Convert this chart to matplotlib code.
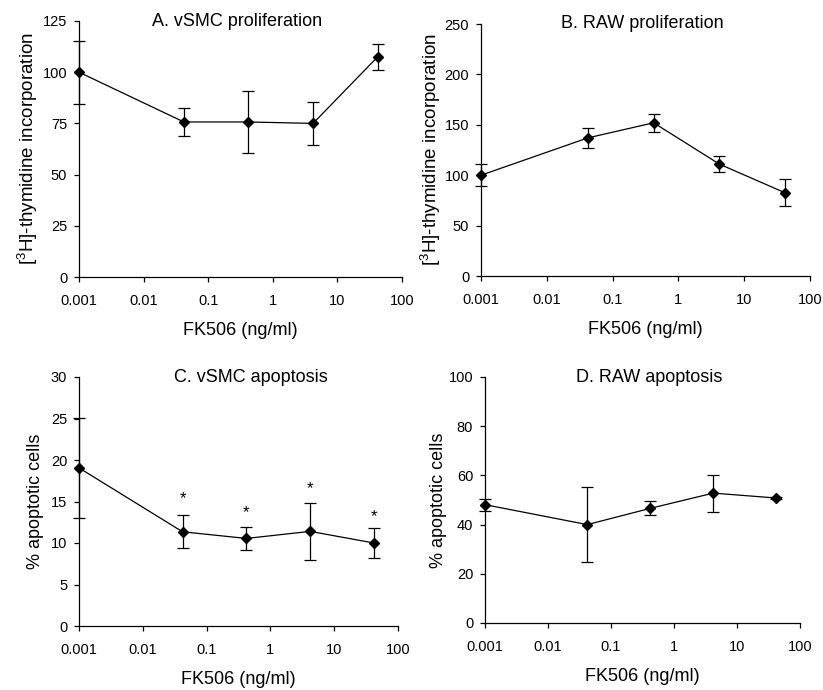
import matplotlib
matplotlib.use("Agg")
import matplotlib.pyplot as plt
from matplotlib.ticker import FixedLocator, FixedFormatter, NullLocator

plt.rcParams['font.family'] = ['Liberation Sans', 'DejaVu Sans']
plt.rcParams['mathtext.fontset'] = 'custom'
plt.rcParams['mathtext.rm'] = 'Liberation Sans'
plt.rcParams['mathtext.default'] = 'regular'

# ---- data ----
dose = [0.001, 0.042, 0.42, 4.2, 42]

a_mean = [100, 75.7, 75.7, 75.0, 107.5]
a_err = [15.3, 7.0, 15.3, 10.5, 6.3]

b_mean = [100, 137, 152, 111, 82.5]
b_err = [10.7, 10, 9, 8, 13.5]

c_mean = [19.05, 11.35, 10.55, 11.4, 10.0]
c_err = [6.0, 2.0, 1.4, 3.4, 1.8]
c_star_y = [None, 15.3, 13.6, 16.6, 13.2]

d_mean = [48.1, 40.0, 46.6, 52.8, 50.8]
d_err = [2.5, 15.2, 2.9, 7.5, 0.5]

xticks = [0.001, 0.01, 0.1, 1, 10, 100]
xticklabels = ['0.001', '0.01', '0.1', '1', '10', '100']

fig = plt.figure(figsize=(8.23, 6.9), dpi=100)

W, H = 823.0, 690.0
def rect(l, r, t, b):
    return [l / W, 1 - b / H, (r - l) / W, (b - t) / H]

axA = fig.add_axes(rect(79, 402, 21, 277))
axB = fig.add_axes(rect(481, 810, 24, 276))
axC = fig.add_axes(rect(79, 398, 377, 626))
axD = fig.add_axes(rect(485, 800, 377, 623))

panels = [
    (axA, a_mean, a_err, (0, 125), [0, 25, 50, 75, 100, 125],
     r'[$^{3}$H]-thymidine incorporation', 13.5, 2, 'A. vSMC proliferation', 0.49),
    (axB, b_mean, b_err, (0, 250), [0, 50, 100, 150, 200, 250],
     r'[$^{3}$H]-thymidine incorporation', 13.5, 1, 'B. RAW proliferation', 0.49),
    (axC, c_mean, c_err, (0, 30), [0, 5, 10, 15, 20, 25, 30],
     '% apoptotic cells', 13, 5, 'C. vSMC apoptosis', 0.54),
    (axD, d_mean, d_err, (0, 100), [0, 20, 40, 60, 80, 100],
     '% apoptotic cells', 13, 1, 'D. RAW apoptosis', 0.52),
]

for ax, m, e, ylim, yt, ylab, yfs, ypad, title, tx in panels:
    ax.errorbar(dose, m, yerr=e, fmt='-D', color='black', ms=5.5, lw=0.9,
                elinewidth=0.9, capsize=4.5, capthick=0.9, clip_on=False,
                zorder=3)
    ax.set_xscale('log')
    ax.set_xlim(0.001, 100)
    ax.set_ylim(*ylim)
    ax.xaxis.set_major_locator(FixedLocator(xticks))
    ax.xaxis.set_major_formatter(FixedFormatter(xticklabels))
    ax.xaxis.set_minor_locator(NullLocator())
    ax.set_yticks(yt)
    ax.spines['top'].set_visible(False)
    ax.spines['right'].set_visible(False)
    for s in ('left', 'bottom'):
        ax.spines[s].set_linewidth(0.9)
    ax.tick_params(direction='out', length=3.5, width=0.9, labelsize=10.5)
    ax.tick_params(axis='x', pad=9)
    ax.tick_params(axis='y', pad=5)
    ax.set_xlabel('FK506 (ng/ml)', fontsize=13, labelpad=10)
    ax.set_ylabel(ylab, fontsize=yfs, labelpad=ypad)
    ax.text(tx, 1.0, title, transform=ax.transAxes, ha='center', va='center',
            fontsize=13)

for x, y in zip(dose, c_star_y):
    if y is not None:
        axC.text(x, y, '*', ha='center', va='center', fontsize=12)

fig.savefig('out.png', dpi=100)
